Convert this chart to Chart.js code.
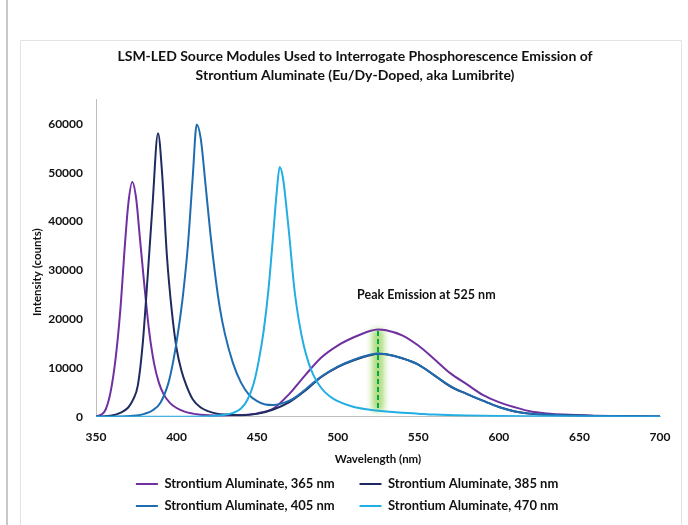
<!DOCTYPE html>
<html>
<head>
<meta charset="utf-8">
<script src="https://cdn.jsdelivr.net/npm/chart.js@4.4.1/dist/chart.umd.min.js"></script>
<style>
  html, body { margin: 0; padding: 0; background: #ffffff; }
  #wrap { width: 688px; height: 525px; }
</style>
</head>
<body>
<div id="wrap"><canvas id="c" width="688" height="525"></canvas></div>
<script>
// ---------------- data ----------------
const titleLines = [
  'LSM-LED Source Modules Used to Interrogate Phosphorescence Emission of',
  'Strontium Aluminate (Eu/Dy-Doped, aka Lumibrite)'
];
const xAxisTitle = 'Wavelength (nm)';
const yAxisTitle = 'Intensity (counts)';
const seriesNames = [
  'Strontium Aluminate, 365 nm',
  'Strontium Aluminate, 385 nm',
  'Strontium Aluminate, 405 nm',
  'Strontium Aluminate, 470 nm'
];

// 365 nm LED
const wl365  = [350,353,356,359,362,365,368,370,372.5,375,377,380,383,386,389,392,396,400,405,410,415,420,425,430,440,450,460,470,480,490,500,510,520,525,530,540,550,560,570,580,590,600,610,620,630,640,660,680,700];
const int365 = [100,400,1500,5000,11500,21500,35500,43500,48100,44500,37500,27000,17500,11000,7000,4600,2800,1800,1050,650,420,300,250,250,350,700,1700,4700,8600,12200,14600,16300,17600,17900,17750,16700,14600,11800,8900,6700,4500,3000,1950,1100,700,450,220,110,60];

// 385 nm LED
const wl385  = [350,360,365,370,373,376,379,382,385,388.5,391,394,397,400,403,406,410,415,420,425,430,440,450,460,470,480,490,500,510,520,525,530,540,550,560,570,580,590,600,610,620,630,640,660,680,700];
const int385 = [0,250,800,1900,3500,6500,15000,28500,43000,58100,50000,33000,21800,14000,9500,6500,3600,1900,1100,650,450,300,600,1500,3000,5400,8200,10200,11600,12600,12900,12800,12000,10700,8500,6200,4700,3300,2000,1100,600,400,300,170,90,40];

// 405 nm LED
const wl405  = [350,365,375,380,385,390,395,398,401,404,407,410,412.5,415,418,421,424,427,430,435,440,445,450,455,460,465,470,475,480,485,490,500,510,520,525,530,540,550,560,570,580,590,600,610,620,630,640,660,680,700];
const int405 = [0,50,250,600,1300,2900,7000,11500,17500,25000,35000,49000,59900,57000,47500,37500,29000,22000,17000,11000,7000,4500,3200,2500,2400,2700,3300,4300,5600,7000,8300,10300,11700,12700,12950,12800,12000,10700,8500,6300,4700,3300,2000,1100,650,450,330,180,90,40];

// 470 nm LED
const wl470  = [350,400,420,430,435,440,444,448,451,454,457,460,462,464,466,468,470,473,476,479,482,485,490,495,500,510,520,525,530,540,550,560,580,600,620,650,700];
const int470 = [0,0,100,400,800,1700,3500,7000,11500,17500,26000,37500,45500,51200,49000,43500,37000,26500,19500,14500,11000,8500,5800,4200,3200,2000,1450,1250,1100,850,650,450,250,150,100,60,20];

// axis ranges and tick labels
const xMin = 350, xMax = 700;
const xTicks = [350, 400, 450, 500, 550, 600, 650, 700];
const yMin = 0, yMax = 65000;
const yTicks = [0, 10000, 20000, 30000, 40000, 50000, 60000];

// peak-emission marker (data units)
const peakWavelength = 525;
const bandTop = 18500, bandBottom = 600;
const dashTop = 17600, dashBottom = 1300;
const annotationText = 'Peak Emission at 525 nm';
const annotationX = 555, annotationY = 25000;

// ---------------- styling ----------------
const FONT = 'Lato, "Open Sans", "Liberation Sans", sans-serif';
const TXT = '#111111';
const colors = ['#7030A0', '#1D2B5E', '#1F6CB0', '#22AEE3'];
const NBSP = '\u00A0';

function pts(xs, ys) { return xs.map((x, i) => ({ x: x, y: ys[i] })); }

const seriesX = [wl365, wl385, wl405, wl470];
const seriesY = [int365, int385, int405, int470];

const datasets = seriesNames.map((name, i) => ({
  label: name,
  data: pts(seriesX[i], seriesY[i]),
  borderColor: colors[i],
  backgroundColor: colors[i],
  borderWidth: 2,
  pointRadius: 0,
  fill: false,
  cubicInterpolationMode: 'monotone',
  order: seriesNames.length - i
}));

const decor = {
  id: 'decor',
  beforeDraw(chart) {
    const ctx = chart.ctx;
    ctx.save();
    ctx.fillStyle = '#ffffff';
    ctx.fillRect(0, 0, chart.width, chart.height);
    ctx.strokeStyle = '#C8C8C8';
    ctx.lineWidth = 2;
    ctx.beginPath(); ctx.moveTo(7, 0); ctx.lineTo(7, chart.height); ctx.stroke();
    ctx.strokeStyle = '#E3E3E3';
    ctx.lineWidth = 1;
    ctx.beginPath();
    ctx.moveTo(20.5, chart.height + 5); ctx.lineTo(20.5, 40.5);
    ctx.lineTo(681.5, 40.5); ctx.lineTo(681.5, chart.height + 5);
    ctx.stroke();
    ctx.restore();
  },
  beforeDatasetsDraw(chart) {
    const ctx = chart.ctx, xs = chart.scales.x, ys = chart.scales.y;
    const x = xs.getPixelForValue(peakWavelength);
    const yT = ys.getPixelForValue(bandTop), yB = ys.getPixelForValue(bandBottom);
    ctx.save();
    ctx.filter = 'blur(3px)';
    ctx.fillStyle = 'rgba(146, 208, 80, 0.75)';
    ctx.fillRect(x - 6, yT + 3, 12, yB - yT - 6);
    ctx.restore();
    ctx.save();
    ctx.strokeStyle = '#00A84F';
    ctx.lineWidth = 2;
    ctx.setLineDash([5, 3]);
    ctx.beginPath();
    ctx.moveTo(x, ys.getPixelForValue(dashTop));
    ctx.lineTo(x, ys.getPixelForValue(dashBottom));
    ctx.stroke();
    ctx.restore();
  },
  afterDraw(chart) {
    const ctx = chart.ctx, xs = chart.scales.x, ys = chart.scales.y;
    ctx.save();
    ctx.font = 'bold 12.5px ' + FONT;
    ctx.fillStyle = TXT;
    ctx.textAlign = 'center';
    ctx.textBaseline = 'middle';
    ctx.fillText(annotationText, xs.getPixelForValue(annotationX), ys.getPixelForValue(annotationY));
    ctx.restore();
  }
};

new Chart(document.getElementById('c'), {
  type: 'line',
  data: { datasets: datasets },
  plugins: [decor],
  options: {
    responsive: false,
    animation: false,
    layout: { padding: { left: 22, right: 0, top: 0, bottom: 2.5 } },
    plugins: {
      title: {
        display: true,
        text: titleLines,
        color: TXT,
        font: { family: FONT, size: 14, weight: 'bold', lineHeight: 1.38 },
        padding: { top: 47, bottom: 14 }
      },
      legend: {
        position: 'bottom',
        labels: {
          usePointStyle: true,
          pointStyle: 'line',
          pointStyleWidth: 22,
          color: TXT,
          font: { family: FONT, size: 13, weight: 'bold' },
          padding: 9,
          sort: (a, b) => a.datasetIndex - b.datasetIndex,
          generateLabels(chart) {
            const items = Chart.defaults.plugins.legend.labels.generateLabels(chart);
            items.forEach(it => { it.text = it.text + NBSP.repeat(5); });
            return items;
          }
        }
      },
      tooltip: { enabled: false }
    },
    scales: {
      x: {
        type: 'linear',
        min: xMin, max: xMax,
        afterBuildTicks(s) { s.ticks = xTicks.map(v => ({ value: v })); },
        grid: { display: false },
        border: { display: true, color: '#BFBFBF', width: 1 },
        ticks: { color: TXT, padding: 5.5, maxRotation: 0, font: { family: FONT, size: 12, weight: 'bold' } },
        title: { display: true, text: xAxisTitle, color: TXT, font: { family: FONT, size: 11.5, weight: 'bold' }, padding: { top: 2.5, bottom: 2 } }
      },
      y: {
        type: 'linear',
        min: yMin, max: yMax,
        afterBuildTicks(s) { s.ticks = yTicks.map(v => ({ value: v })); },
        grid: { display: false },
        border: { display: true, color: '#BFBFBF', width: 1 },
        ticks: {
          color: TXT, padding: 5,
          font: { family: FONT, size: 12, weight: 'bold' },
          callback: v => String(v)
        },
        title: { display: true, text: yAxisTitle + NBSP.repeat(10), color: TXT, font: { family: FONT, size: 11.5, weight: 'bold' }, padding: { top: 8, bottom: 0 } },
        afterFit(s) { s.width = 74; }
      },
      yR: {
        type: 'linear',
        position: 'right',
        display: true,
        grid: { display: false },
        border: { display: false },
        ticks: { display: false },
        afterFit(s) { s.width = 28; }
      }
    }
  }
});
</script>
</body>
</html>
